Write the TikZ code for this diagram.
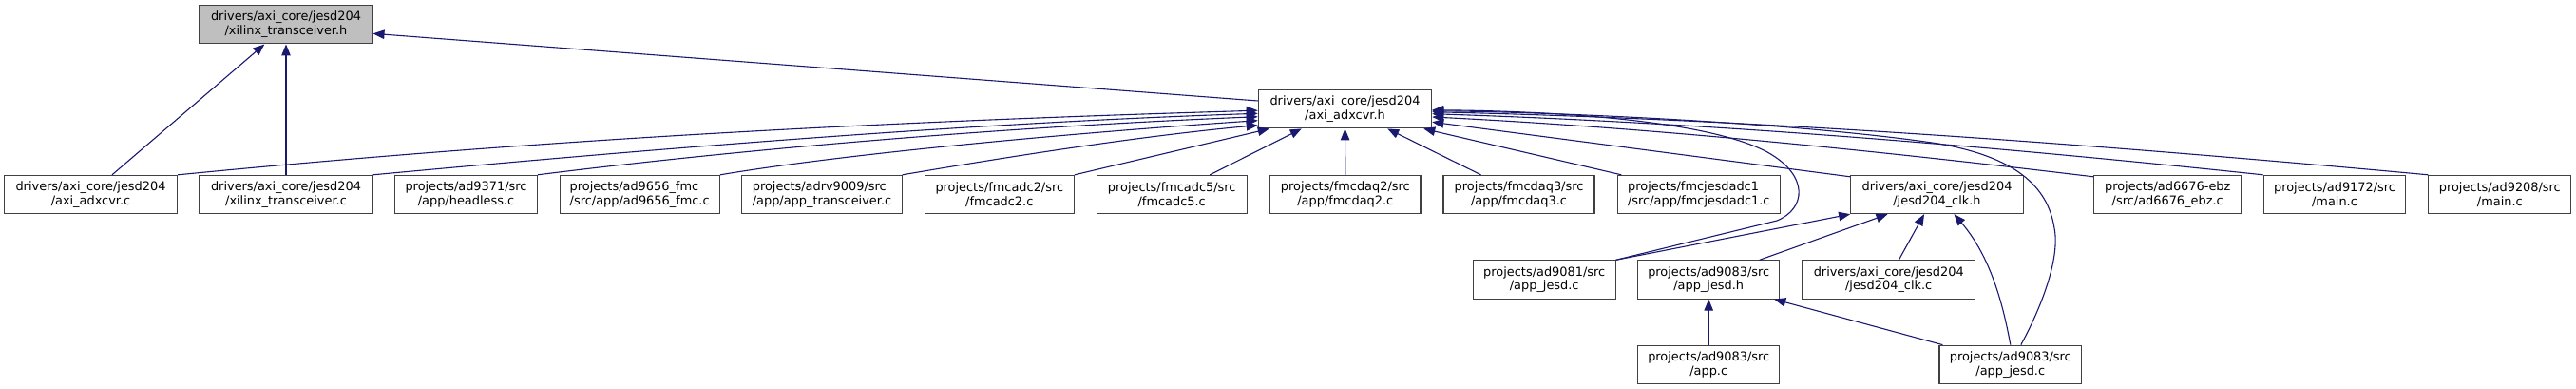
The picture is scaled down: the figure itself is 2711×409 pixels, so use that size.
\documentclass[tikz,border=0pt]{standalone}
\usepackage{fontspec}
\setmainfont{DejaVu Sans}
\usetikzlibrary{arrows.meta}
\definecolor{edgecol}{HTML}{191970}
\definecolor{boxgray}{HTML}{BFBFBF}
\begin{document}
\begin{tikzpicture}[x=1pt,y=-1pt,
  box/.style={draw=black!75, line width=1.1pt, fill=white, minimum width=#1, minimum height=40.3pt, inner sep=0pt, align=center, font=\fontsize{12.9}{14.7}\selectfont},
  dep/.style={draw=edgecol, line width=1.1pt, -{Triangle[length=12pt,width=9.5pt]}}]
\useasboundingbox (0,0) rectangle (2711,409);
% rank 0
\node[box=182pt, fill=boxgray] (xth) at (301,25.8) {drivers/axi\_core/jesd204\\/xilinx\_transceiver.h};
% rank 1
\node[box=182.4pt] (axh) at (1415.5,114.7) {drivers/axi\_core/jesd204\\/axi\_adxcvr.h};
% rank 2
\node[box=182.4pt] (axc) at (95.5,204.5) {drivers/axi\_core/jesd204\\/axi\_adxcvr.c};
\node[box=182pt] (xtc) at (301,204.5) {drivers/axi\_core/jesd204\\/xilinx\_transceiver.c};
\node[box=149.6pt] (headless) at (490.5,204.5) {projects/ad9371/src\\/app/headless.c};
\node[box=168.3pt, align=left] (ad9656) at (673.2,204.5) {projects/ad9656\_fmc\\/src/app/ad9656\_fmc.c};
\node[box=168.3pt, align=left] (adrv9009) at (865,204.5) {projects/adrv9009/src\\/app/app\_transceiver.c};
\node[box=157.2pt] (fmcadc2) at (1051.8,204.5) {projects/fmcadc2/src\\/fmcadc2.c};
\node[box=158.3pt] (fmcadc5) at (1233.2,204.5) {projects/fmcadc5/src\\/fmcadc5.c};
\node[box=158.3pt] (fmcdaq2) at (1415.8,204.5) {projects/fmcdaq2/src\\/app/fmcdaq2.c};
\node[box=159pt] (fmcdaq3) at (1598.5,204.5) {projects/fmcdaq3/src\\/app/fmcdaq3.c};
\node[box=171pt, align=left] (fmcj) at (1787.8,204.5) {projects/fmcjesdadc1\\/src/app/fmcjesdadc1.c};
\node[box=181.7pt] (jclkh) at (2038.5,204.5) {drivers/axi\_core/jesd204\\/jesd204\_clk.h};
\node[box=155pt] (ad6676) at (2281.2,204.5) {projects/ad6676-ebz\\/src/ad6676\_ebz.c};
\node[box=149.7pt] (ad9172) at (2457,204.5) {projects/ad9172/src\\/main.c};
\node[box=150pt] (ad9208) at (2630.8,204.5) {projects/ad9208/src\\/main.c};
% rank 3
\node[box=149.7pt] (ad9081) at (1625.2,294) {projects/ad9081/src\\/app\_jesd.c};
\node[box=149pt] (ajh) at (1798.2,294) {projects/ad9083/src\\/app\_jesd.h};
\node[box=182pt] (jclkc) at (1987.7,294) {drivers/axi\_core/jesd204\\/jesd204\_clk.c};
% rank 4
\node[box=149pt] (appc) at (1798.2,383.3) {projects/ad9083/src\\/app.c};
\node[box=149.7pt] (ajc) at (2115.8,383.3) {projects/ad9083/src\\/app\_jesd.c};

% edges into xilinx_transceiver.h
\draw[dep] ([xshift=22.5pt]axc.north) -- ([xshift=-22.7pt]xth.south);
\draw[dep] (xtc.north) -- (xth.south);
\draw[dep] ([yshift=8.7pt]axh.west) -- ([yshift=-9.5pt]xth.east);

% edges into axi_adxcvr.h from the left
\draw[dep] (axc.north east) .. controls (550,148.4) and (900,128.7) .. ([yshift=-1.5pt]axh.west);
\draw[dep] (xtc.north east) .. controls (650,160) and (1000,130) .. ([yshift=-4.6pt]axh.west);
\draw[dep] (headless.north east) .. controls (780,157) and (1050,134) .. ([yshift=-8pt]axh.west);
\draw[dep] (ad9656.north east) .. controls (900,160) and (1150,138.3) .. ([yshift=-12pt]axh.west);
\draw[dep] (adrv9009.north east) .. controls (1060,165) and (1200,143) .. ([yshift=-17pt]axh.west);
\draw[dep] (fmcadc2.north east) -- ([xshift=12pt]axh.south west);
\draw[dep] ([xshift=40pt]fmcadc5.north) -- ([xshift=46pt]axh.south west);
\draw[dep] (fmcdaq2.north) -- (axh.south);
\draw[dep] ([xshift=-40pt]fmcdaq3.north) -- ([xshift=-47pt]axh.south east);
\draw[dep] ([xshift=4.5pt]fmcj.north west) -- ([xshift=-9pt]axh.south east);

% edges into axi_adxcvr.h from the right
\draw[dep] ([yshift=-2pt]jclkh.north west) -- ([yshift=-13.6pt]axh.east);
\draw[dep] ([yshift=-2pt]ad6676.north west) .. controls (1971,158) and (1739,134.6) .. ([yshift=-8.3pt]axh.east);
\draw[dep] (ad9172.north west) .. controls (2090,153.2) and (1799,129.2) .. ([yshift=-5pt]axh.east);
\draw[dep] (ad9208.north west) .. controls (2206,151.8) and (1857,125.8) .. ([yshift=-3pt]axh.east);
\draw[dep] (ad9081.north east) -- (1870,232) .. controls (1900,220) and (1905,185) .. (1860,160) .. controls (1800,128) and (1650,117) .. ([yshift=-1pt]axh.east);
\draw[dep] ([xshift=11pt]ajc.north) .. controls (2150,320) and (2168,270) .. (2162,240) .. controls (2155,195) and (2120,165) .. (2040,151) .. controls (1900,130) and (1650,118) .. ([yshift=-2pt]axh.east);

% edges into jesd204_clk.h
\draw[dep] (ad9081.north east) -- (jclkh.south west);
\draw[dep] ([xshift=53.5pt]ajh.north) -- ([xshift=-52pt]jclkh.south);
\draw[dep] ([xshift=10.6pt]jclkc.north) -- ([xshift=-13.5pt]jclkh.south);
\draw[dep] (ajc.north) .. controls (2108,320) and (2095,270) .. ([xshift=18pt]jclkh.south);

% edges into ad9083 app_jesd.h
\draw[dep] (appc.north) -- (ajh.south);
\draw[dep] ([xshift=4pt]ajc.north west) -- ([xshift=-6pt]ajh.south east);
\end{tikzpicture}
\end{document}
